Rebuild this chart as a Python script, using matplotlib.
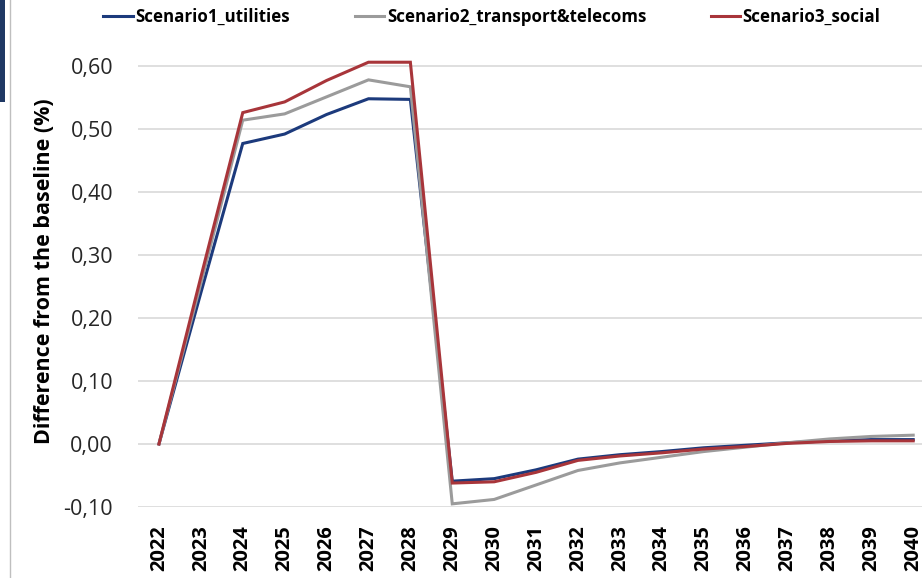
import matplotlib
matplotlib.use("Agg")
import matplotlib.pyplot as plt
from matplotlib.patches import Rectangle
from matplotlib.lines import Line2D
import numpy as np

years = [str(y) for y in range(2022, 2041)]
scenario1_utilities = [0.0, 0.240, 0.477, 0.492, 0.523, 0.548, 0.547, -0.059, -0.055, -0.041,
                       -0.024, -0.017, -0.012, -0.006, -0.002, 0.002, 0.005, 0.007, 0.007]
scenario2_transport = [0.0, 0.255, 0.514, 0.524, 0.551, 0.578, 0.567, -0.095, -0.088, -0.065,
                       -0.042, -0.030, -0.021, -0.012, -0.005, 0.002, 0.008, 0.012, 0.014]
scenario3_social = [0.0, 0.265, 0.526, 0.543, 0.577, 0.606, 0.606, -0.062, -0.060, -0.045,
                    -0.026, -0.019, -0.014, -0.008, -0.004, 0.001, 0.004, 0.005, 0.005]
series_names = ["Scenario1_utilities", "Scenario2_transport&telecoms", "Scenario3_social"]
yticks = [-0.10, 0.0, 0.10, 0.20, 0.30, 0.40, 0.50, 0.60]

colors = ["#1C3A7C", "#9B9B9B", "#A8353A"]

plt.rcParams['font.family'] = ['Open Sans', 'DejaVu Sans']

W, H = 922, 578
fig = plt.figure(figsize=(W / 100, H / 100), dpi=100)
left_px, bottom_px, top_px = 138, 507, 34.5
ax = fig.add_axes([left_px / W, 1 - bottom_px / H, 1 - left_px / W, (bottom_px - top_px) / H])

x = np.arange(len(years))
for vals, name, c in zip([scenario1_utilities, scenario2_transport, scenario3_social], series_names, colors):
    ax.plot(x, vals, color=c, lw=2.2, label=name, solid_joinstyle='miter')

ax.set_xlim(-0.5, (W - 159) / 41.9)
ax.set_ylim(-0.10, 0.65)
ax.set_yticks(yticks)
ax.set_yticklabels([f"{v:.2f}".replace(".", ",") for v in yticks], fontsize=15.5, color='#262626')
ax.set_xticks(x)
ax.set_xticklabels(years, rotation=90, fontsize=14.5, fontweight='bold')
ax.tick_params(axis='both', length=0)
ax.tick_params(axis='y', pad=18)
ax.tick_params(axis='x', pad=13)
for s in ax.spines.values():
    s.set_visible(False)
ax.grid(axis='y', color='#D9D9D9', lw=1.2)
ax.set_axisbelow(True)
ax.set_ylabel("Difference from the baseline (%)", fontsize=15.5, fontweight='bold', labelpad=6)

fig.legend(loc='center', bbox_to_anchor=(492 / W, 1 - 17 / H), ncol=3, frameon=False,
           prop={'size': 12.2, 'weight': 'bold'}, handlelength=1.75, handletextpad=0.15,
           columnspacing=3.8)

# screenshot decorations
fig.add_artist(Rectangle((0, 1 - 102 / H), 5 / W, 102 / H, transform=fig.transFigure,
                         color='#1F3864', lw=0))
fig.add_artist(Line2D([10 / W, 10 / W], [0, 1], transform=fig.transFigure, color='#BFBFBF', lw=1))

fig.savefig("out.png", dpi=100)
